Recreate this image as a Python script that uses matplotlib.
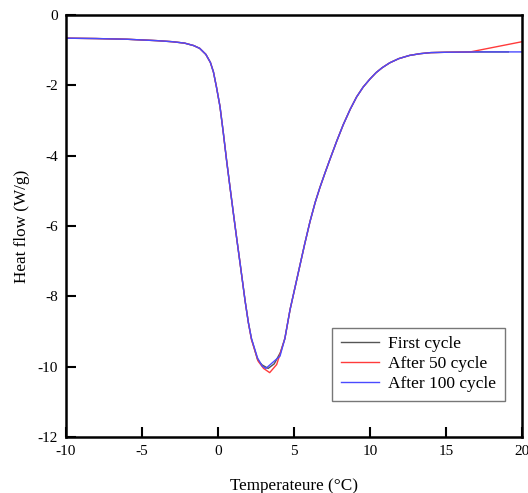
import matplotlib
matplotlib.use("Agg")
import matplotlib.pyplot as plt

plt.rcParams['font.family'] = ['Liberation Serif', 'DejaVu Serif']
plt.rcParams['axes.unicode_minus'] = False

# DSC heat flow curves
t_first = [-10, -8, -6, -4, -3, -2.2, -1.6, -1.2, -0.8, -0.5, -0.3, -0.1, 0.13, 0.35, 0.57, 0.8, 1.01,
           1.23, 1.45, 1.62, 1.78, 2.0, 2.2, 2.6, 2.9, 3.3, 3.7, 4.1, 4.4, 4.74, 5.05, 5.39, 5.7, 6.05,
           6.4, 6.71, 7.05, 7.37, 7.8, 8.24, 8.7, 9.12, 9.55, 10.0, 10.4, 10.8, 11.3, 11.9, 12.6, 13.3,
           14, 15, 17, 19.1]
hf_first = [-0.66, -0.67, -0.69, -0.73, -0.76, -0.80, -0.87, -0.95, -1.12, -1.35, -1.62, -2.05, -2.6, -3.35, -4.15, -4.93, -5.63,
            -6.35, -7.05, -7.6, -8.12, -8.75, -9.2, -9.8, -9.95, -10.05, -9.92, -9.6, -9.2, -8.38, -7.78, -7.12, -6.52, -5.88,
            -5.32, -4.9, -4.48, -4.1, -3.6, -3.12, -2.68, -2.33, -2.05, -1.82, -1.64, -1.5, -1.36, -1.24, -1.15, -1.1,
            -1.07, -1.06, -1.05, -1.05]

t_50 = [-10, -8, -6, -4, -3, -2.2, -1.6, -1.2, -0.8, -0.5, -0.3, -0.1, 0.13, 0.35, 0.57, 0.8, 1.01,
        1.23, 1.45, 1.62, 1.78, 2.0, 2.2, 2.65, 3.0, 3.4, 3.86, 4.1, 4.4, 4.74, 5.05, 5.39, 5.7, 6.05,
        6.4, 6.71, 7.05, 7.37, 7.8, 8.24, 8.7, 9.12, 9.55, 10.0, 10.4, 10.8, 11.3, 11.9, 12.6, 13.3,
        14, 15, 16.6, 20]
hf_50 = [-0.66, -0.67, -0.69, -0.73, -0.76, -0.80, -0.87, -0.95, -1.12, -1.35, -1.62, -2.05, -2.6, -3.35, -4.15, -4.93, -5.63,
         -6.35, -7.05, -7.6, -8.12, -8.75, -9.23, -9.85, -10.05, -10.17, -9.94, -9.62, -9.2, -8.38, -7.78, -7.12, -6.52, -5.88,
         -5.32, -4.9, -4.48, -4.1, -3.6, -3.12, -2.68, -2.33, -2.05, -1.82, -1.64, -1.5, -1.36, -1.24, -1.15, -1.1,
         -1.07, -1.06, -1.05, -0.76]

t_100 = [-10, -8, -6, -4, -3, -2.2, -1.6, -1.2, -0.8, -0.5, -0.3, -0.1, 0.13, 0.35, 0.57, 0.8, 1.01,
         1.23, 1.45, 1.62, 1.78, 2.0, 2.2, 2.6, 2.9, 3.15, 3.6, 4.08, 4.4, 4.74, 5.05, 5.39, 5.7, 6.05,
         6.4, 6.71, 7.05, 7.37, 7.8, 8.24, 8.7, 9.12, 9.55, 10.0, 10.4, 10.8, 11.3, 11.9, 12.6, 13.3,
         14, 15, 17, 20]
hf_100 = [-0.66, -0.67, -0.69, -0.73, -0.76, -0.80, -0.87, -0.95, -1.12, -1.35, -1.62, -2.05, -2.6, -3.35, -4.15, -4.93, -5.63,
          -6.35, -7.05, -7.6, -8.12, -8.75, -9.2, -9.75, -9.98, -10.05, -9.88, -9.7, -9.2, -8.38, -7.78, -7.12, -6.52, -5.88,
          -5.32, -4.9, -4.48, -4.1, -3.6, -3.12, -2.68, -2.33, -2.05, -1.82, -1.64, -1.5, -1.36, -1.24, -1.15, -1.1,
          -1.07, -1.06, -1.05, -1.05]

x_ticks = [-10, -5, 0, 5, 10, 15, 20]
y_ticks = [0, -2, -4, -6, -8, -10, -12]

fig = plt.figure(figsize=(5.28, 4.93), dpi=100)
ax = fig.add_axes([0.125, 0.1136, 0.8636, 0.856])

ax.plot(t_first, hf_first, color='#555555', lw=1.0, label='First cycle')
ax.plot(t_50, hf_50, color='#ff3b3b', lw=1.0, label='After 50 cycle')
ax.plot(t_100, hf_100, color='#4a4aff', lw=1.0, label='After 100 cycle')

ax.set_xlim(-10, 20)
ax.set_ylim(-12, 0)
ax.set_xticks(x_ticks)
ax.set_yticks(y_ticks)
ax.tick_params(direction='in', length=7, width=1.5, labelsize=11, pad=6,
               top=False, right=False)
for s in ax.spines.values():
    s.set_linewidth(1.8)

ax.set_xlabel('Temperateure (\u00b0C)', fontsize=12.3, labelpad=14)
ax.set_ylabel('Heat flow (W/g)', fontsize=12.3, labelpad=5)

leg = ax.legend(loc='lower right', bbox_to_anchor=(0.963, 0.085), borderaxespad=0,
                fontsize=12.5, fancybox=False, framealpha=1, edgecolor='#777777',
                handlelength=2.2, handletextpad=0.55, borderpad=0.5, labelspacing=0.22)
leg.get_frame().set_linewidth(1.0)

fig.savefig('out.png', dpi=100)
